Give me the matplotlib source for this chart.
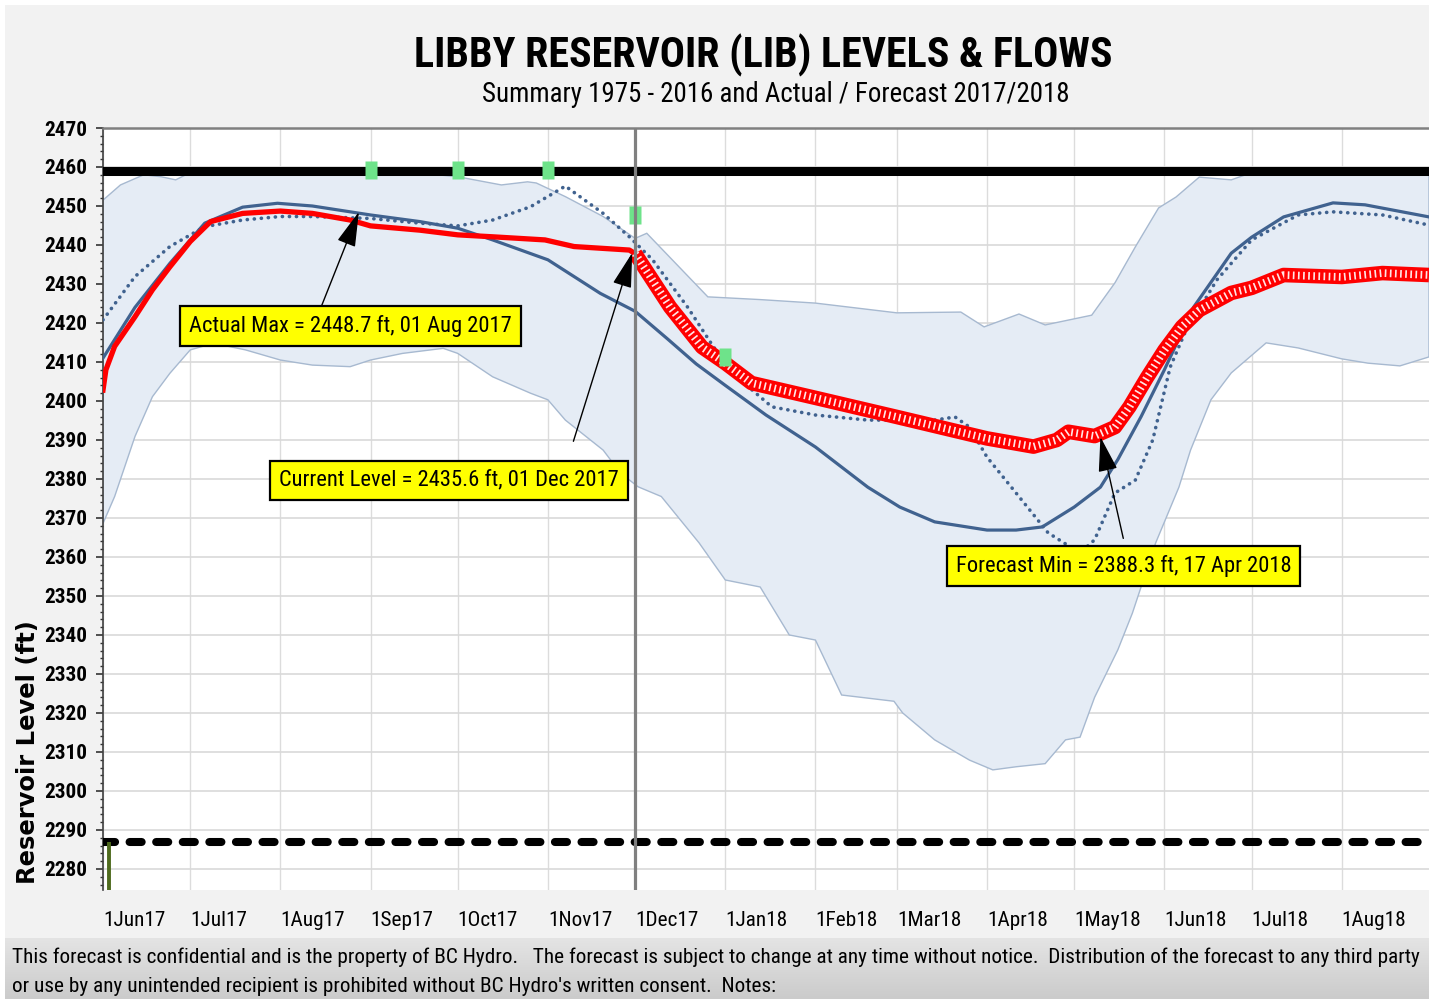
import os
import numpy as np
import matplotlib
matplotlib.use("Agg")
import matplotlib.pyplot as plt
import matplotlib.dates as mdates
from matplotlib import font_manager as fm
from matplotlib.font_manager import FontProperties
from matplotlib.patches import Rectangle
from matplotlib.ticker import MultipleLocator
from matplotlib.colors import LinearSegmentedColormap

# ------------------------------------------------------------------ data
title = "LIBBY RESERVOIR (LIB) LEVELS & FLOWS"
subtitle = "Summary 1975 - 2016 and Actual / Forecast 2017/2018"
y_label = "Reservoir Level (ft)"
footer_1 = ("This forecast is confidential and is the property of BC Hydro.   The forecast is subject "
            "to change at any time without notice.  Distribution of the forecast to any third party")
footer_2 = "or use by any unintended recipient is prohibited without BC Hydro's written consent.  Notes:"

x_tick_dates = ["2017-06-01", "2017-07-01", "2017-08-01", "2017-09-01", "2017-10-01",
                "2017-11-01", "2017-12-01", "2018-01-01", "2018-02-01", "2018-03-01",
                "2018-04-01", "2018-05-01", "2018-06-01", "2018-07-01", "2018-08-01"]
x_tick_labels = ["1Jun17", "1Jul17", "1Aug17", "1Sep17", "1Oct17", "1Nov17", "1Dec17",
                 "1Jan18", "1Feb18", "1Mar18", "1Apr18", "1May18", "1Jun18", "1Jul18", "1Aug18"]
y_ticks = list(range(2280, 2471, 10))
x_start, x_end = "2017-06-01", "2018-08-31"
y_min, y_max = 2274.6, 2470

full_pool = 2459.0
min_pool = 2287.0
current_date = "2017-12-01"
flow_bar_date = "2017-06-03"

# historical 1975-2016 envelope (max / min)
upper_dates = ["2017-06-01", "2017-06-07", "2017-06-15", "2017-06-21", "2017-06-26", "2017-06-30",
               "2017-07-15", "2017-08-15", "2017-09-15", "2017-09-24", "2017-10-01", "2017-10-16",
               "2017-10-25", "2017-10-28", "2017-11-07", "2017-11-20", "2017-12-01", "2017-12-05",
               "2017-12-26", "2018-01-13", "2018-02-01", "2018-03-01", "2018-03-23", "2018-03-31",
               "2018-04-12", "2018-04-21", "2018-05-07", "2018-05-15", "2018-05-22", "2018-05-30",
               "2018-06-05", "2018-06-13", "2018-06-24", "2018-06-30", "2018-07-31", "2018-08-31"]
upper_level = [2451.5, 2455.4, 2458.0, 2457.5, 2456.7, 2458.2,
               2458.3, 2458.3, 2458.3, 2458.0, 2457.5, 2455.4,
               2456.2, 2455.9, 2452.4, 2447.3, 2441.7, 2443.0,
               2426.7, 2426.0, 2425.1, 2422.6, 2422.8, 2419.0,
               2422.3, 2419.5, 2422.0, 2430.3, 2439.5, 2449.5,
               2452.3, 2457.4, 2456.7, 2458.3, 2458.3, 2458.3]
lower_dates = ["2017-06-01", "2017-06-05", "2017-06-12", "2017-06-18", "2017-06-24", "2017-07-01",
               "2017-07-09", "2017-07-20", "2017-08-01", "2017-08-12", "2017-08-25", "2017-09-01",
               "2017-09-12", "2017-09-26", "2017-10-01", "2017-10-13", "2017-10-26", "2017-11-01",
               "2017-11-07", "2017-11-20", "2017-11-26", "2017-12-02", "2017-12-10", "2017-12-23",
               "2018-01-01", "2018-01-13", "2018-01-23", "2018-02-01", "2018-02-10", "2018-02-28",
               "2018-03-03", "2018-03-14", "2018-03-26", "2018-04-03", "2018-04-11", "2018-04-21",
               "2018-04-28", "2018-05-03", "2018-05-08", "2018-05-16", "2018-05-21", "2018-05-29",
               "2018-06-06", "2018-06-10", "2018-06-17", "2018-06-24", "2018-07-06", "2018-07-17",
               "2018-08-01", "2018-08-10", "2018-08-21", "2018-08-31"]
lower_level = [2368.6, 2375.5, 2390.9, 2401.1, 2407.1, 2413.1,
               2414.8, 2413.1, 2410.5, 2409.2, 2408.8, 2410.5,
               2412.2, 2413.5, 2412.2, 2406.2, 2402.0, 2400.3,
               2395.1, 2387.4, 2381.5, 2378.0, 2375.5, 2363.6,
               2354.1, 2352.3, 2340.0, 2338.7, 2324.6, 2323.0,
               2320.0, 2313.1, 2307.9, 2305.4, 2306.2, 2307.0,
               2313.1, 2313.8, 2324.0, 2336.2, 2345.6, 2363.6,
               2377.9, 2387.4, 2400.3, 2407.2, 2414.9, 2413.6,
               2410.8, 2409.7, 2409.0, 2411.3]

# historical average (solid blue)
mean_dates = ["2017-06-01", "2017-06-12", "2017-06-24", "2017-07-06", "2017-07-19", "2017-07-31",
              "2017-08-12", "2017-09-01", "2017-09-18", "2017-10-01", "2017-10-13", "2017-11-01",
              "2017-11-19", "2017-12-01", "2017-12-12", "2017-12-22", "2018-01-01", "2018-01-15",
              "2018-02-01", "2018-02-19", "2018-03-02", "2018-03-14", "2018-04-01", "2018-04-11",
              "2018-04-20", "2018-05-01", "2018-05-10", "2018-05-16", "2018-05-24", "2018-06-01",
              "2018-06-11", "2018-06-24", "2018-07-01", "2018-07-12", "2018-07-29", "2018-08-09",
              "2018-08-31"]
mean_level = [2411.0, 2424.0, 2435.3, 2445.6, 2449.7, 2450.7,
              2450.0, 2447.7, 2446.0, 2444.3, 2441.3, 2436.2,
              2427.6, 2423.0, 2416.0, 2409.5, 2404.0, 2396.4,
              2388.2, 2377.9, 2372.8, 2369.0, 2366.9, 2366.9,
              2367.7, 2372.8, 2377.9, 2385.0, 2396.0, 2408.0,
              2424.0, 2437.9, 2442.0, 2447.2, 2450.8, 2450.3,
              2447.2]

# comparison year (dotted blue)
dotted_dates = ["2017-06-01", "2017-06-12", "2017-06-24", "2017-07-06", "2017-07-19", "2017-08-01",
                "2017-08-12", "2017-09-01", "2017-09-18", "2017-10-01", "2017-10-13", "2017-10-26",
                "2017-11-07", "2017-11-20", "2017-11-29", "2017-12-07", "2017-12-19", "2017-12-28",
                "2018-01-09", "2018-01-17", "2018-02-01", "2018-02-19", "2018-03-14", "2018-03-21",
                "2018-03-26", "2018-04-01", "2018-04-11", "2018-04-22", "2018-05-03", "2018-05-08",
                "2018-05-15", "2018-05-22", "2018-05-28", "2018-06-03", "2018-06-08", "2018-06-19",
                "2018-07-01", "2018-07-17", "2018-07-29", "2018-08-15", "2018-08-31"]
dotted_level = [2420.8, 2431.9, 2439.6, 2444.7, 2446.4, 2447.3,
                2447.3, 2446.8, 2445.6, 2444.9, 2446.4, 2449.8,
                2455.1, 2448.1, 2442.1, 2436.2, 2424.1, 2413.8,
                2403.6, 2398.5, 2396.4, 2395.1, 2395.1, 2395.9,
                2393.3, 2385.6, 2376.4, 2366.2, 2361.0, 2364.4,
                2376.4, 2379.7, 2390.0, 2408.7, 2417.4, 2431.0,
                2441.3, 2447.7, 2448.5, 2447.7, 2445.1]

# actual 2017 (solid red)
actual_dates = ["2017-06-01", "2017-06-02", "2017-06-05", "2017-06-12", "2017-06-18", "2017-06-24",
                "2017-07-01", "2017-07-08", "2017-07-19", "2017-08-01", "2017-08-12", "2017-08-25",
                "2017-09-01", "2017-09-18", "2017-10-01", "2017-10-13", "2017-10-31", "2017-11-10",
                "2017-11-29", "2017-12-01"]
actual_level = [2402.8, 2408.0, 2414.0, 2421.6, 2428.5, 2434.4,
                2440.9, 2446.0, 2448.1, 2448.7, 2448.1, 2446.4,
                2444.9, 2443.8, 2442.6, 2442.1, 2441.3, 2439.6,
                2438.7, 2437.8]

# forecast 2017/2018 (red markers)
forecast_dates = ["2017-12-01", "2017-12-13", "2017-12-24", "2018-01-01", "2018-01-10", "2018-02-01",
                  "2018-03-01", "2018-04-01", "2018-04-17", "2018-04-25", "2018-04-29", "2018-05-08",
                  "2018-05-15", "2018-05-20", "2018-05-26", "2018-06-01", "2018-06-07", "2018-06-13",
                  "2018-06-24", "2018-07-01", "2018-07-12", "2018-08-01", "2018-08-15", "2018-08-31"]
forecast_level = [2437.8, 2424.1, 2413.8, 2409.7, 2404.6, 2400.8,
                  2395.9, 2390.4, 2388.3, 2390.0, 2392.1, 2391.0,
                  2393.3, 2398.5, 2406.0, 2413.0, 2419.0, 2423.3,
                  2427.7, 2429.0, 2432.3, 2431.8, 2432.8, 2432.3]

# operating targets (green squares)
target_dates = ["2017-09-01", "2017-10-01", "2017-11-01", "2017-12-01", "2018-01-01"]
target_level = [2459.2, 2459.2, 2459.2, 2447.7, 2411.3]

# annotations: text, arrow tip (date, ft), box centre (date, ft), arrow start on box
annotations = [
    ("Actual Max = 2448.7 ft, 01 Aug 2017", ("2017-08-28", 2448.5), ("2017-08-25", 2419.2), (0.40, 1.0), 0),
    ("Current Level = 2435.6 ft, 01 Dec 2017", ("2017-11-30", 2438.0), ("2017-09-28", 2379.7), (0.84, 1.0), 14),
    ("Forecast Min = 2388.3 ft, 17 Apr 2018", ("2018-05-10", 2390.8), ("2018-05-18", 2357.7), (0.51, 1.0), 5),
]

# ------------------------------------------------------------------ helpers
def d64(v):
    return np.array(v, dtype="datetime64[D]")


def dnum(s):
    return mdates.date2num(np.datetime64(s, "D"))


def find_file(keys):
    files = [f.fname for f in fm.fontManager.ttflist]
    for k in keys:
        for fn in files:
            if os.path.basename(fn).lower().startswith(k):
                return fn
    return None


BOLD_C = find_file(["liberationsansnarrow-bold.", "robotocondensed-bold.", "roboto_condensed-bold.",
                    "dejavusanscondensed-bold.", "opensans_condensed-bold.", "opensans-condbold."])
REG_C = find_file(["liberationsansnarrow-regular.", "robotocondensed-regular.", "roboto_condensed-regular.",
                   "dejavusanscondensed.", "opensans_condensed-regular.", "opensans-condlight."])


def make_fp(path, weight, size):
    if path:
        return FontProperties(fname=path, size=size)
    return FontProperties(family="DejaVu Sans", weight=weight, size=size)


W, H = 1429, 999
fig = plt.figure(figsize=(W / 100, H / 100), dpi=100)
fig.patch.set_facecolor("white")
renderer = fig.canvas.get_renderer()


def fitted(path, weight, text, target_px, vertical=False):
    fp = make_fp(path, weight, 20)
    t = fig.text(0, 0, text, fontproperties=fp, rotation=90 if vertical else 0)
    ext = t.get_window_extent(renderer)
    size = ext.height if vertical else ext.width
    t.remove()
    fp.set_size(20 * target_px / size)
    return fp


# ------------------------------------------------------------------ background
fig.add_artist(Rectangle((5 / W, 61 / H), 1 - 5 / W, 1 - 66 / H, transform=fig.transFigure,
                         facecolor="#f2f2f2", edgecolor="none", zorder=-10))
axf = fig.add_axes([5 / W, 0, 1 - 5 / W, 61 / H], zorder=-5)
grad = np.linspace(0, 1, 64).reshape(-1, 1)
axf.imshow(grad, aspect="auto", cmap=LinearSegmentedColormap.from_list("g", ["#e4e4e4", "#cbcbcb"]),
           extent=(0, 1, 1, 0))
axf.set_axis_off()

# ------------------------------------------------------------------ main axes
ax = fig.add_axes([103 / W, 1 - 890 / H, 1 - 103 / W, (890 - 128) / H])
ax.set_facecolor("white")
ax.set_xlim(np.datetime64(x_start), np.datetime64(x_end))
ax.set_ylim(y_min, y_max)

# envelope
env_x = np.concatenate([d64(upper_dates), d64(lower_dates)[::-1]])
env_y = np.concatenate([np.array(upper_level), np.array(lower_level)[::-1]])
ax.fill(env_x, env_y, facecolor="#e5ecf5", edgecolor="#a7b9d0", linewidth=1.0, zorder=1)

ax.axhline(full_pool, color="black", linewidth=6.5, zorder=3)
ax.axhline(min_pool, color="black", linewidth=5.8, linestyle=(0, (1.5, 1.8)),
           dash_capstyle="round", zorder=3)
ax.vlines(np.datetime64(flow_bar_date), y_min, min_pool, color="#4f6b1e", linewidth=2.8, zorder=3)

ax.plot(d64(mean_dates), mean_level, color="#40628f", linewidth=2.3, zorder=4,
        solid_joinstyle="round")
ax.plot(d64(dotted_dates), dotted_level, color="#40628f", linewidth=2.6,
        linestyle=(0, (0.05, 1.9)), dash_capstyle="round", zorder=4)

ax.plot(d64(actual_dates), actual_level, color="#ff0000", linewidth=3.8, zorder=5,
        solid_joinstyle="round")
ax.plot(d64(forecast_dates), forecast_level, color="#ff0000", linewidth=10.5, zorder=5,
        solid_joinstyle="round", solid_capstyle="butt")
ax.plot(d64(forecast_dates), forecast_level, color="white", linewidth=5.5, alpha=0.9,
        linestyle=(0, (0.22, 0.45)), zorder=5.5)

rect_marker = [(-0.7, -1), (0.7, -1), (0.7, 1), (-0.7, 1), (-0.7, -1)]
ax.plot(d64(target_dates), target_level, linestyle="none", marker=rect_marker, markersize=13,
        markerfacecolor="#6ee38a", markeredgecolor="none", zorder=6)

ax.axvline(np.datetime64(current_date), color="#808080", linewidth=2.3, zorder=6.5)

# ticks & grid
ax.set_xticks(d64(x_tick_dates))
fp_x = fitted(REG_C, "normal", "1Jun17", 62)
ax.set_xticklabels(x_tick_labels, fontproperties=fp_x)
for lab in ax.get_xticklabels():
    lab.set_horizontalalignment("left")
ax.tick_params(axis="x", length=0, pad=15)

ax.set_yticks(y_ticks)
fp_y = fitted(BOLD_C, "bold", "2470", 43)
ax.set_yticklabels([str(v) for v in y_ticks], fontproperties=fp_y)
ax.yaxis.set_minor_locator(MultipleLocator(2))
ax.tick_params(axis="y", which="major", direction="out", length=5, width=1.2, color="#333333", pad=6)
ax.tick_params(axis="y", which="minor", direction="out", length=2.5, width=1.0, color="#333333")

ax.set_axisbelow(True)
ax.grid(axis="y", which="major", color="#d9d9d9", linewidth=1.2)
ax.grid(axis="x", which="major", color="#dcdcdc", linewidth=1.0)

for s in ("right", "bottom"):
    ax.spines[s].set_visible(False)
ax.spines["top"].set_color("#808080")
ax.spines["top"].set_linewidth(1.8)
ax.spines["left"].set_color("#404040")
ax.spines["left"].set_linewidth(1.2)

# annotations
fp_a = fitted(REG_C, "normal", annotations[0][0], 322)
pad_units = 9 / (fp_a.get_size() * 100 / 72)
for text, tip, centre, relpos, shrink in annotations:
    ax.annotate(text, xy=(dnum(tip[0]), tip[1]), xytext=(dnum(centre[0]), centre[1]),
                textcoords="data", ha="center", va="center", fontproperties=fp_a,
                bbox=dict(boxstyle=f"square,pad={pad_units:.3f}", facecolor="#ffff00",
                          edgecolor="black", linewidth=1.6),
                arrowprops=dict(arrowstyle="-|>,head_length=1.1,head_width=0.3", color="black",
                                linewidth=1.0, relpos=relpos, shrinkA=shrink, shrinkB=0,
                                mutation_scale=20),
                zorder=10)

# ------------------------------------------------------------------ figure texts
fp_t = fitted(BOLD_C, "bold", title, 700)
fig.text(763 / W, 1 - 55 / H, title, fontproperties=fp_t, ha="center", va="center")
fp_s = fitted(REG_C, "normal", subtitle, 587)
fig.text(776 / W, 1 - 95 / H, subtitle, fontproperties=fp_s, ha="center", va="center")

fp_yl = fitted(None, "bold", y_label, 265, vertical=True)
fig.text(28 / W, 1 - 752 / H, y_label, fontproperties=fp_yl, rotation=90, ha="center", va="center")

fp_f = fitted(REG_C, "normal", footer_1, 1408)
fig.text(12 / W, 1 - 957 / H, footer_1, fontproperties=fp_f, ha="left", va="center")
fig.text(12 / W, 1 - 987 / H, footer_2, fontproperties=fp_f, ha="left", va="center")

fig.savefig("out.png", dpi=100, facecolor=fig.get_facecolor())
